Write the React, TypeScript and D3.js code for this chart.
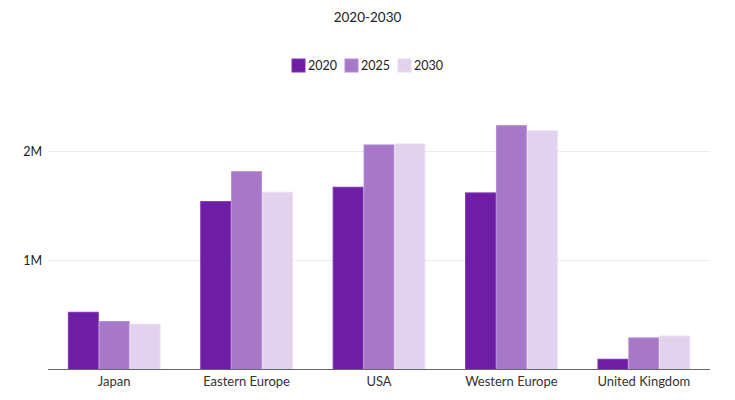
import React from "react";
import * as d3 from "d3";

const categories = ["Japan", "Eastern Europe", "USA", "Western Europe", "United Kingdom"];
const seriesNames = ["2020", "2025", "2030"];
const values2020 = [525000, 1540000, 1672000, 1620000, 94000];
const values2025 = [440000, 1815000, 2060000, 2237000, 290000];
const values2030 = [415000, 1626000, 2069000, 2190000, 307000];
const seriesColors = ["#6E1DA5", "#A778C8", "#E2D2EE"];
const strokeColors = ["#7F33B3", "#B68BD3", "#E9DCF3"];
const yTicks = [1000000, 2000000];
const yTickLabels = ["1M", "2M"];

const W = 735;
const H = 400;
const margin = { left: 48, right: 25, top: 0, bottom: 0 };
const baseline = 369.5;
const font = "Lato, 'Noto Sans', sans-serif";

export default function App() {
  const x = d3
    .scaleBand<string>()
    .domain(categories)
    .range([margin.left, W - margin.right])
    .paddingInner(0.3)
    .paddingOuter(0.15);
  const y = d3.scaleLinear().domain([0, 1000000]).range([baseline, baseline - 109]);
  const xs = d3.scaleBand<string>().domain(seriesNames).range([0, x.bandwidth()]);
  const series = [values2020, values2025, values2030];

  return (
    <svg
      width={W}
      height={H}
      style={{ position: "absolute", left: 0, top: 0, background: "#fff" }}
      fontFamily={font}
    >
      <text x={W / 2} y={22} textAnchor="middle" fontSize={13.5} fill="#222">
        2020-2030
      </text>
      {seriesNames.map((s, i) => {
        const lx = 292 + i * 53;
        return (
          <g key={s}>
            <rect x={lx} y={59} width={13} height={13} fill={seriesColors[i]} stroke={strokeColors[i]} strokeWidth={1} />
            <text x={lx + 16} y={70} fontSize={12.5} fill="#222">
              {s}
            </text>
          </g>
        );
      })}
      {yTicks.map((t, i) => (
        <g key={t}>
          <line x1={margin.left} x2={W - margin.right} y1={y(t)} y2={y(t)} stroke="#ececec" strokeWidth={1} />
          <text x={42} y={y(t) + 4} textAnchor="end" fontSize={12.5} fill="#222">
            {yTickLabels[i]}
          </text>
        </g>
      ))}
      {categories.map((c, ci) => (
        <g key={c}>
          {series.map((vals, si) => (
            <rect
              key={si}
              x={(x(c) as number) + (xs(seriesNames[si]) as number) + 0.5}
              y={y(vals[ci])}
              width={xs.bandwidth() - 1}
              height={baseline - y(vals[ci])}
              fill={seriesColors[si]}
              stroke={strokeColors[si]}
              strokeWidth={1}
            />
          ))}
          <text
            x={(x(c) as number) + x.bandwidth() / 2}
            y={385.5}
            textAnchor="middle"
            fontSize={13}
            fill="#333"
          >
            {c}
          </text>
        </g>
      ))}
      <line x1={margin.left} x2={W - margin.right} y1={baseline} y2={baseline} stroke="#666" strokeWidth={1.2} />
    </svg>
  );
}
